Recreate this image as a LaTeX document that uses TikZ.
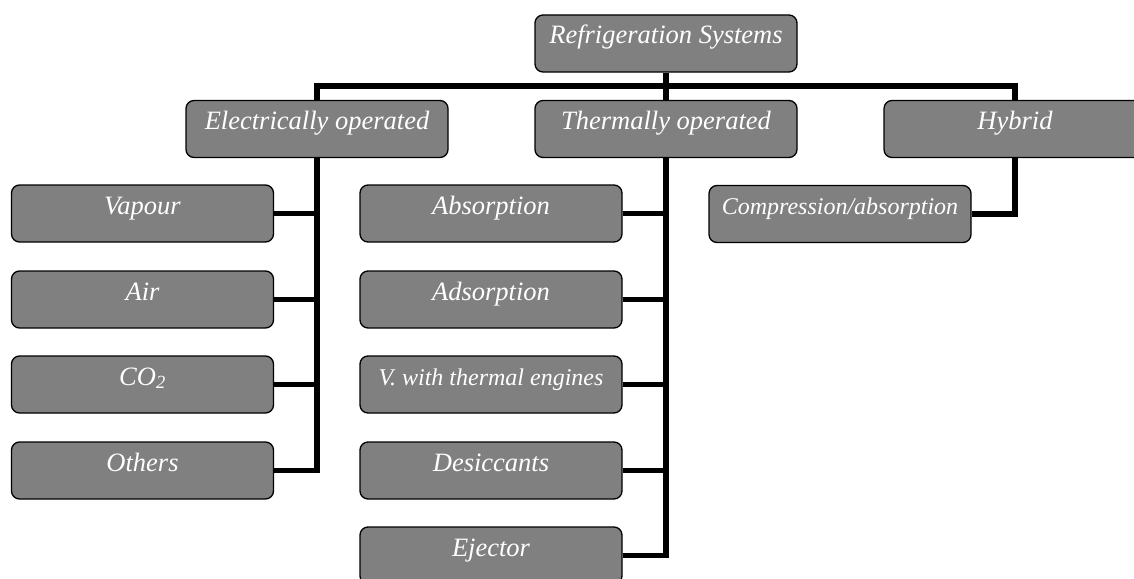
\documentclass[tikz,border=0pt]{standalone}
\usepackage{fontspec}
\setmainfont{Liberation Serif}
\usepackage{tikz}

\begin{document}
\begin{tikzpicture}[x=1pt, y=-1pt,
        sysbox/.style={draw=black, line width=1.3pt, fill=gray, rounded corners=8pt,
            minimum width=262pt, inner sep=0pt, text height=29pt, text depth=28pt,
            text=white, font=\fontsize{26.5}{30}\selectfont\itshape},
        smallbox/.style={sysbox, font=\fontsize{24}{28}\selectfont\itshape},
        wire/.style={line width=5.5pt, line join=miter}]
        \useasboundingbox (0,0) rectangle (1134,578);
        \clip (0,0) rectangle (1134,578);

        % Coordinates
        \coordinate (bus) at (0, 86);

        % Boxes
        \node[sysbox] (root) at (666, 43.5) {Refrigeration Systems};
        \node[sysbox] (elec) at (317, 129) {Electrically operated};
        \node[sysbox] (therm) at (666, 129) {Thermally operated};
        \node[sysbox] (hyb) at (1015, 129) {Hybrid};

        \node[sysbox] (vapour) at (142.5, 213.5) {Vapour};
        \node[sysbox] (air) at (142.5, 299.5) {Air};
        \node[sysbox] (co2) at (142.5, 384.5) {CO\textsubscript{2}};
        \node[sysbox] (others) at (142.5, 470.5) {Others};

        \node[sysbox] (absorp) at (491, 213.5) {Absorption};
        \node[sysbox] (adsorp) at (491, 299.5) {Adsorption};
        \node[smallbox] (engines) at (491, 384.5) {V. with thermal engines};
        \node[sysbox] (desicc) at (491, 470.5) {Desiccants};
        \node[sysbox] (ejector) at (491, 555.5) {Ejector};

        \node[smallbox] (comp) at (840, 214) {Compression/absorption};

        % Drawing
        \draw[wire] (root.south) -- (root.south |- bus);
        \draw[wire] (elec.north) -- (elec.north |- bus) -- (hyb.north |- bus) -- (hyb.north);
        \draw[wire] (therm.north) -- (therm.north |- bus);

        \draw[wire] (elec.south) |- (others.east);
        \draw[wire] (vapour.east) -- (vapour.east -| elec.south);
        \draw[wire] (air.east) -- (air.east -| elec.south);
        \draw[wire] (co2.east) -- (co2.east -| elec.south);

        \draw[wire] (therm.south) |- (ejector.east);
        \draw[wire] (absorp.east) -- (absorp.east -| therm.south);
        \draw[wire] (adsorp.east) -- (adsorp.east -| therm.south);
        \draw[wire] (engines.east) -- (engines.east -| therm.south);
        \draw[wire] (desicc.east) -- (desicc.east -| therm.south);

        \draw[wire] (hyb.south) |- (comp.east);
    \end{tikzpicture}
\end{document}
